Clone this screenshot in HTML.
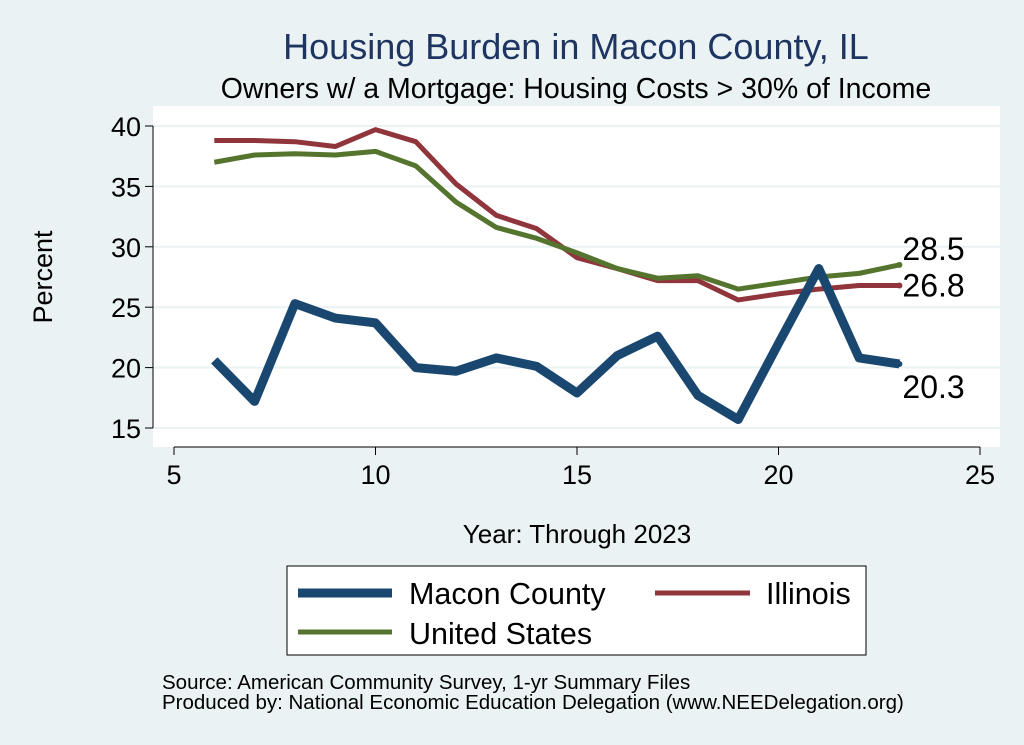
<!DOCTYPE html>
<html><head><meta charset="utf-8"><style>
body{margin:0;background:#eaf2f3;}
svg{display:block;font-family:"Liberation Sans",Arial,sans-serif;}
</style></head><body>
<svg id="chart" width="1024" height="745">
<rect x="0" y="0" width="1024" height="745" fill="#eaf2f3"/>
<text x="576" y="59" font-size="36" fill="#1e3562" text-anchor="middle">Housing Burden in Macon County, IL</text>
<text x="576" y="98" font-size="28.5" fill="#000" text-anchor="middle">Owners w/ a Mortgage: Housing Costs &gt; 30% of Income</text>
<rect x="153" y="106" width="847" height="341" fill="#fff"/>
<g id="grid"></g><g id="axes"></g><g id="series"></g>
<text x="52" y="277" font-size="27" text-anchor="middle" transform="rotate(-90 52 277)">Percent</text>
<text x="577" y="543" font-size="26" text-anchor="middle">Year: Through 2023</text>
<g>
<rect x="287" y="566" width="579" height="89" fill="#fff" stroke="#000" stroke-width="1"/>
<line x1="298" y1="593" x2="392" y2="593" stroke="#1a476f" stroke-width="9"/>
<text x="409" y="604" font-size="30.5">Macon County</text>
<line x1="655" y1="593" x2="750" y2="593" stroke="#90353b" stroke-width="5"/>
<text x="766" y="604" font-size="30.5">Illinois</text>
<line x1="298" y1="632" x2="392" y2="632" stroke="#55752f" stroke-width="5"/>
<text x="409" y="644" font-size="30.5">United States</text>
</g>
<text x="162" y="689" font-size="20.5">Source: American Community Survey, 1-yr Summary Files</text>
<text x="162" y="709" font-size="20.5">Produced by: National Economic Education Delegation (www.NEEDelegation.org)</text>
</svg>
<script>
const years=[6,7,8,9,10,11,12,13,14,15,16,17,18,19,20,21,22,23];
const macon=[20.6,17.2,25.3,24.1,23.7,20.0,19.7,20.8,20.1,17.9,21.0,22.6,17.7,15.7,22.0,28.2,20.8,20.3];
const illinois=[38.8,38.8,38.7,38.3,39.7,38.7,35.2,32.6,31.5,29.1,28.2,27.2,27.2,25.6,26.1,26.5,26.8,26.8];
const us=[37.0,37.6,37.7,37.6,37.9,36.7,33.7,31.6,30.7,29.5,28.2,27.4,27.6,26.5,27.0,27.5,27.8,28.5];
const xTicks=[5,10,15,20,25];
const yTicks=[15,20,25,30,35,40];
const NS="http://www.w3.org/2000/svg";
function X(v){return 174+(v-5)*(980-174)/20;}
function Y(v){return 428-(v-15)*(428-126)/25;}
function mk(t,a,p){const e=document.createElementNS(NS,t);for(const k in a)e.setAttribute(k,a[k]);p.appendChild(e);return e;}
const grid=document.getElementById('grid'),axes=document.getElementById('axes'),ser=document.getElementById('series');
yTicks.forEach(v=>{
 const g=mk('line',{x1:153,x2:1000,y1:Y(v),y2:Y(v),stroke:'#eaf2f3','stroke-width':2},grid);
 
 
 mk('line',{x1:145,x2:153,y1:Y(v),y2:Y(v),stroke:'#000','stroke-width':1},axes);
 const t=mk('text',{x:141,y:Y(v)+10,'font-size':27,'text-anchor':'end'},axes);t.textContent=v;
 
 
});
mk('line',{x1:153,x2:153,y1:126,y2:428,stroke:'#000'},axes);
mk('line',{x1:174,x2:980,y1:447,y2:447,stroke:'#000'},axes);
xTicks.forEach(v=>{
 mk('line',{x1:X(v),x2:X(v),y1:447,y2:455,stroke:'#000'},axes);
 const t=mk('text',{x:X(v),y:484,'font-size':27,'text-anchor':'middle'},axes);t.textContent=v;
 
 
});
function line(vals,col,w,name){
 const p=mk('polyline',{points:years.map((y,i)=>X(y)+','+Y(vals[i])).join(' '),fill:'none',stroke:col,'stroke-width':w,'stroke-linejoin':'round'},ser);
 
 
}
line(illinois,'#90353b',5,'illinois-line');
line(us,'#55752f',5,'us-line');
line(macon,'#1a476f',9,'macon-line');
const n=years.length-1;
[[us,'#55752f',-5,'us-end-label'],[illinois,'#90353b',11,'illinois-end-label'],[macon,'#1a476f',34,'macon-end-label']].forEach(([v,c,dy,nm])=>{
 mk('circle',{cx:X(years[n]),cy:Y(v[n]),r:3,fill:c},ser);
 const t=mk('text',{x:X(years[n])+3,y:Y(v[n])+dy,'font-size':32},ser);t.textContent=v[n].toFixed(1);
 
 
});
</script>
</body></html>
